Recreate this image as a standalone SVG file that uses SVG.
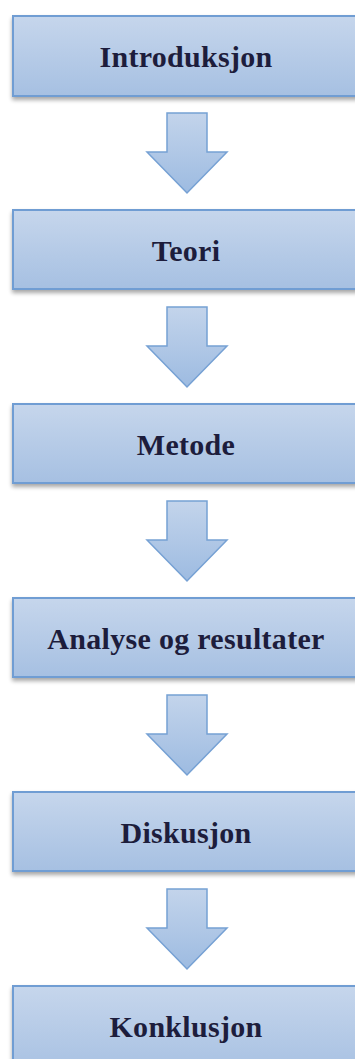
<svg xmlns="http://www.w3.org/2000/svg" width="355" height="1059" viewBox="0 0 355 1059">
<defs>
<linearGradient id="boxg" x1="0" y1="0" x2="0" y2="1">
<stop offset="0" stop-color="#c6d6ec"/>
<stop offset="1" stop-color="#a6c0e2"/>
</linearGradient>
<linearGradient id="arrg" x1="0" y1="0" x2="0" y2="1">
<stop offset="0" stop-color="#c3d4eb"/>
<stop offset="1" stop-color="#9dbbe1"/>
</linearGradient>
<filter id="sh" x="-10%" y="-10%" width="120%" height="140%">
<feGaussianBlur in="SourceAlpha" stdDeviation="2"/>
<feOffset dx="0" dy="3"/>
<feComponentTransfer><feFuncA type="linear" slope="0.35"/></feComponentTransfer>
<feMerge><feMergeNode/><feMergeNode in="SourceGraphic"/></feMerge>
</filter>
<path id="arrow" d="M167,0 H207 V39 H227 L187,80 L147,39 H167 Z"/>
</defs>
<style>
.box{fill:url(#boxg);stroke:#6f9dd3;stroke-width:2;filter:url(#sh)}
.arr{fill:url(#arrg);stroke:#76a1d4;stroke-width:1.5;stroke-linejoin:miter}
.lbl{font-family:"Liberation Serif","Times New Roman",serif;font-weight:bold;font-size:30px;letter-spacing:0.3px;fill:#1d1d3c;text-anchor:middle}
</style>
<g id="connectors">
<use href="#arrow" class="arr" transform="translate(0,113)"/>
<use href="#arrow" class="arr" transform="translate(0,307)"/>
<use href="#arrow" class="arr" transform="translate(0,501)"/>
<use href="#arrow" class="arr" transform="translate(0,695)"/>
<use href="#arrow" class="arr" transform="translate(0,889)"/>
</g>
<g id="n1"><rect class="box" x="13" y="16" width="350" height="80"/><text class="lbl" x="186" y="67">Introduksjon</text></g>
<g id="n2"><rect class="box" x="13" y="210" width="350" height="79"/><text class="lbl" x="186" y="261">Teori</text></g>
<g id="n3"><rect class="box" x="13" y="404" width="350" height="79"/><text class="lbl" x="186" y="455">Metode</text></g>
<g id="n4"><rect class="box" x="13" y="598" width="350" height="79"/><text class="lbl" x="186" y="649">Analyse og resultater</text></g>
<g id="n5"><rect class="box" x="13" y="792" width="350" height="79"/><text class="lbl" x="186" y="843">Diskusjon</text></g>
<g id="n6"><rect class="box" x="13" y="986" width="350" height="90"/><text class="lbl" x="186" y="1037">Konklusjon</text></g>
</svg>
